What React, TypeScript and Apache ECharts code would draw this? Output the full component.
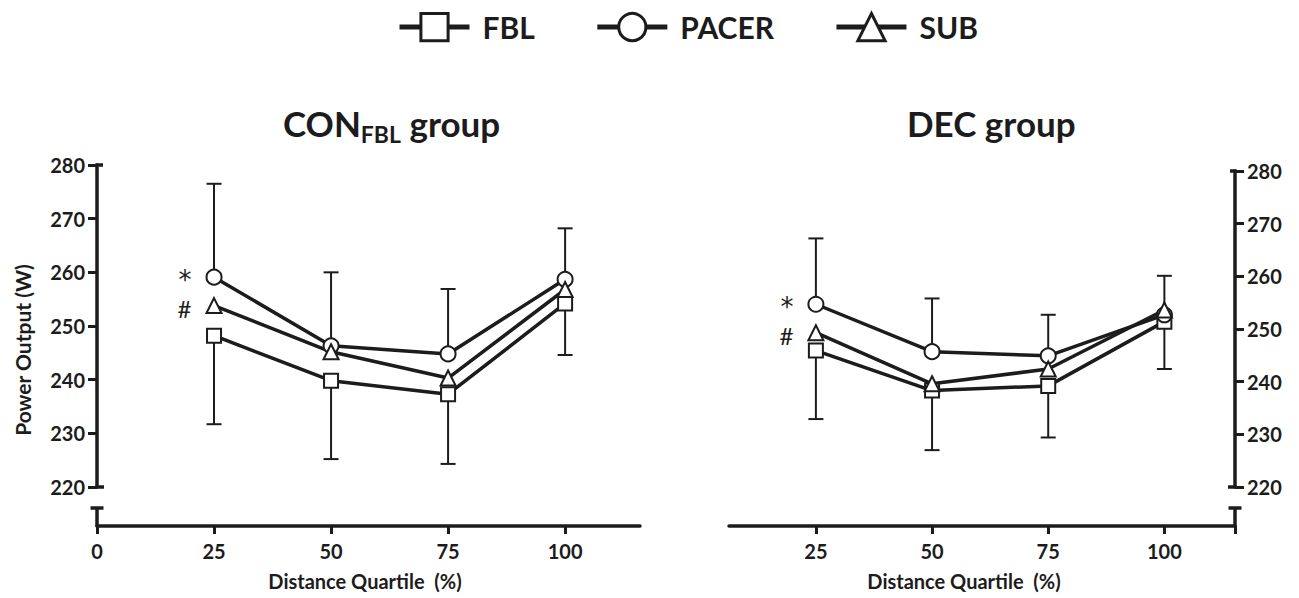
import React, { useEffect, useRef } from "react";
import * as echarts from "echarts";

const quartiles = [25, 50, 75, 100];
const xTickValues = [0, 25, 50, 75, 100];
const yTickLabels = [220, 230, 240, 250, 260, 270, 280];

const conFBL = [248.2, 239.8, 237.3, 254.2];
const conPACER = [259.1, 246.3, 244.8, 258.7];
const conSUB = [253.8, 245.2, 240.3, 256.8];
const conPACERUpper = [276.5, 260.0, 256.9, 268.2];
const conFBLLower = [231.7, 225.2, 224.3, 244.6];

const decFBL = [245.9, 238.3, 239.2, 251.4];
const decPACER = [254.7, 245.7, 244.9, 252.7];
const decSUB = [249.3, 239.6, 242.4, 253.6];
const decPACERUpper = [267.2, 255.8, 252.7, 260.1];
const decFBLLower = [232.9, 227.0, 229.4, 242.4];

const pacerMark = "*";
const subMark = "#";

const INK = "#1c1c1c";
const FONT = "Lato";

export default function App() {
  const ref = useRef<HTMLDivElement>(null);

  useEffect(() => {
    if (!ref.current) return;
    const chart = echarts.init(ref.current, null, { renderer: "svg" });

    const markLabel = (txt: string, dy: number, family: string, size: number) => ({
      show: true,
      formatter: txt,
      position: "left",
      distance: 14,
      offset: [0, dy],
      fontFamily: family,
      fontSize: size,
      lineHeight: size,
      color: INK,
    });

    const pts = (vals: number[], mark?: string, dy = 0, family = FONT, size = 26) =>
      quartiles.map((q, i) =>
        i === 0 && mark ? { value: [q, vals[i]], label: markLabel(mark, dy, family, size) } : [q, vals[i]]
      );

    const lineSeries = (
      name: string,
      symbol: string,
      size: number,
      vals: number[],
      gi: number,
      mark?: string,
      dy = 0,
      family = FONT,
      fsize = 26
    ) => ({
      name,
      type: "line",
      xAxisIndex: gi,
      yAxisIndex: gi,
      symbol,
      symbolSize: size,
      showAllSymbol: true,
      z: 3,
      lineStyle: { color: INK, width: 3.5 },
      itemStyle: { color: "#ffffff", borderColor: INK, borderWidth: 2 },
      label: { show: false },
      data: pts(vals, mark, dy, family, fsize),
    });

    const errSeries = (means: number[], ends: number[], gi: number) => ({
      type: "custom",
      xAxisIndex: gi,
      yAxisIndex: gi,
      z: 1,
      silent: true,
      encode: { x: 0, y: [1, 2] },
      data: quartiles.map((q, i) => [q, means[i], ends[i]]),
      renderItem: (params: any, api: any) => {
        const x = api.value(0);
        const p0 = api.coord([x, api.value(1)]);
        const p1 = api.coord([x, api.value(2)]);
        const w = 7.5;
        const style = { stroke: INK, lineWidth: 2 };
        return {
          type: "group",
          children: [
            { type: "line", shape: { x1: p0[0], y1: p0[1], x2: p1[0], y2: p1[1] }, style },
            { type: "line", shape: { x1: p1[0] - w, y1: p1[1], x2: p1[0] + w, y2: p1[1] }, style },
          ],
        };
      },
    });

    const labelFont = { fontFamily: FONT, fontWeight: "bold" as const, fontSize: 20, color: INK };

    const yAxisCfg = (gi: number, pos: string) => ({
      type: "value",
      gridIndex: gi,
      position: pos,
      min: 220,
      max: 280,
      interval: 10,
      axisLine: { show: true, onZero: false, lineStyle: { color: INK, width: 3.5 } },
      axisTick: { show: true, length: 9, lineStyle: { color: INK, width: 3 } },
      axisLabel: {
        margin: 12,
        ...labelFont,
        formatter: (v: number) => (yTickLabels.includes(v) ? String(v) : ""),
      },
      splitLine: { show: false },
    });

    const xAxisCfg = (gi: number, min: number, max: number, tickVals: number[], labelVals: number[]) => ({
      type: "value",
      gridIndex: gi,
      position: "bottom",
      offset: 39,
      min,
      max,
      axisLine: { show: true, onZero: false, lineStyle: { color: INK, width: 3.5 } },
      axisTick: { show: true, length: 8, customValues: tickVals, lineStyle: { color: INK, width: 3 } },
      axisLabel: { margin: 15, customValues: labelVals, ...labelFont },
      splitLine: { show: false },
    });

    const ls = { stroke: INK, lineWidth: 3.5 };
    const gLine = (x1: number, y1: number, x2: number, y2: number) => ({
      type: "line",
      silent: true,
      shape: { x1, y1, x2, y2 },
      style: ls,
    });

    const nameText = (text: string, x: number, y: number, size: number, rot = 0) => ({
      type: "text",
      x,
      y,
      rotation: rot,
      silent: true,
      style: {
        text,
        fontFamily: FONT,
        fontWeight: "bold",
        fontSize: size,
        fill: INK,
        align: "center",
        verticalAlign: "middle",
      },
    });

    const titleRich = {
      a: { fontFamily: FONT, fontWeight: "bold", fontSize: 35, color: INK, lineHeight: 44, verticalAlign: "middle" },
      s: { fontFamily: FONT, fontWeight: "bold", fontSize: 23, color: INK, lineHeight: 24, verticalAlign: "bottom" },
    };

    chart.setOption({
      animation: false,
      backgroundColor: "#ffffff",
      title: [
        { text: "{a|CON}{s|FBL}{a| group}", left: 278, top: 96, textStyle: { rich: titleRich } },
        { text: "{a|DEC group}", left: 902, top: 96, textStyle: { rich: titleRich } },
      ],
      legend: {
        left: 392,
        top: 7,
        itemWidth: 70,
        itemHeight: 34,
        itemGap: 60,
        selectedMode: false,
        data: ["FBL", "PACER", "SUB"],
        lineStyle: { width: 5 },
        itemStyle: { borderWidth: 3 },
        textStyle: { fontFamily: FONT, fontWeight: "bold", fontSize: 30, color: INK, padding: [0, 0, 0, 8] },
      },
      grid: [
        { left: 97, width: 543, top: 165, height: 322 },
        { left: 729, right: 64, top: 171, height: 316 },
      ],
      xAxis: [
        xAxisCfg(0, 0, 116, xTickValues, xTickValues),
        xAxisCfg(1, 6.3, 115.2, [...quartiles, 115.2], quartiles),
      ],
      yAxis: [yAxisCfg(0, "left"), yAxisCfg(1, "right")],
      graphic: [
        // left axis break & caps
        gLine(97, 508, 97, 527),
        gLine(90.5, 508, 103.5, 508),
        gLine(95.5, 487, 104, 487),
        gLine(95.5, 165, 103, 165),
        // right axis break & caps
        gLine(1235, 508, 1235, 527),
        gLine(1228.5, 508, 1241.5, 508),
        gLine(1228, 487, 1236.5, 487),
        gLine(1230, 171, 1236.5, 171),
        nameText("Power Output (W)", 22, 350, 21, Math.PI / 2),
        nameText("Distance Quartile  (%)", 365, 581, 20),
        nameText("Distance Quartile  (%)", 964, 581, 20),
      ],
      series: [
        errSeries(conPACER, conPACERUpper, 0),
        errSeries(conFBL, conFBLLower, 0),
        lineSeries("FBL", "rect", 14, conFBL, 0),
        lineSeries("PACER", "circle", 15, conPACER, 0, pacerMark, 3, "DejaVu Sans", 26),
        lineSeries("SUB", "triangle", 15, conSUB, 0, subMark, 3, FONT, 24),
        errSeries(decPACER, decPACERUpper, 1),
        errSeries(decFBL, decFBLLower, 1),
        lineSeries("FBL", "rect", 14, decFBL, 1),
        lineSeries("PACER", "circle", 15, decPACER, 1, pacerMark, 3, "DejaVu Sans", 26),
        lineSeries("SUB", "triangle", 15, decSUB, 1, subMark, 3, FONT, 24),
      ],
    });

    return () => chart.dispose();
  }, []);

  return (
    <div
      ref={ref}
      style={{ position: "fixed", left: 0, top: 0, width: 1299, height: 598, background: "#fff" }}
    />
  );
}
